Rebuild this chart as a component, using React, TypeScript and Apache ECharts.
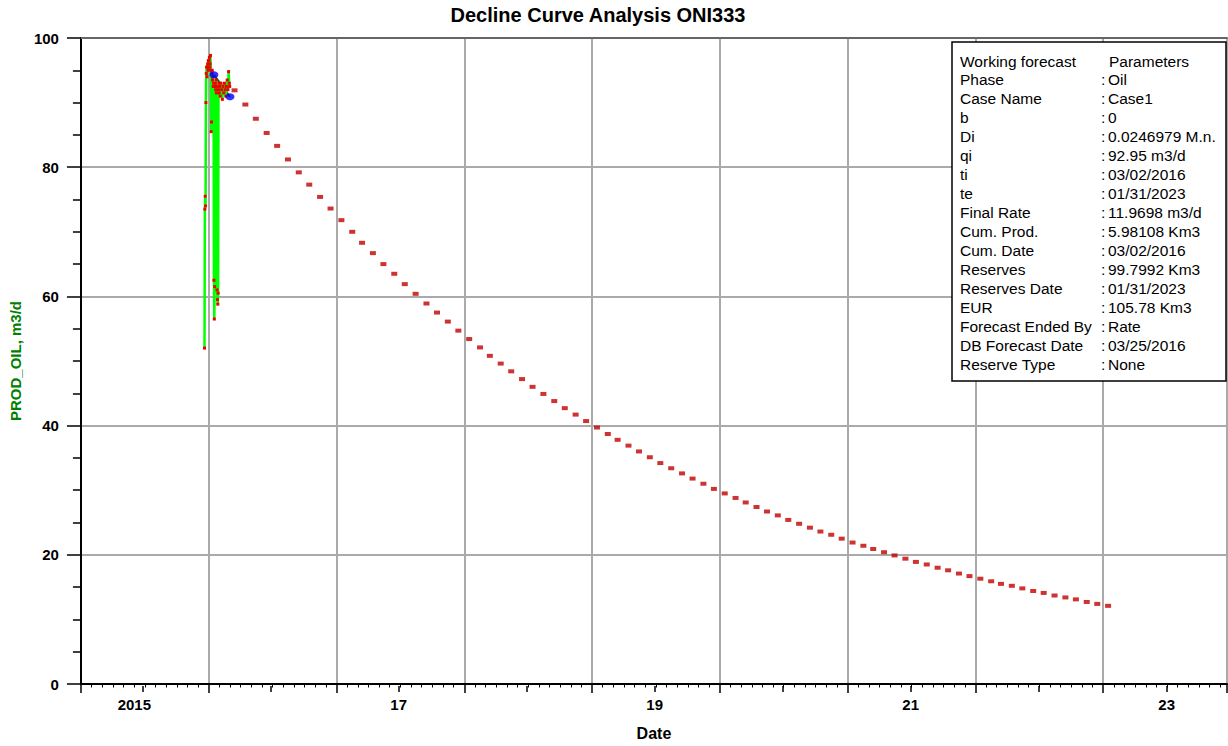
import React, { useEffect, useRef } from 'react';
import * as echarts from 'echarts';

const FONT = '"Liberation Sans", Arial, Helvetica, sans-serif';

// X axis (decimal years)
const xMin = 2015;
const xMax = 2023.96875;
const yearLabelYears = [2015, 2017, 2019, 2021, 2023];
const yearLabelTexts = ['2015', '17', '19', '21', '23'];
const midYearTicks = [2015.5, 2016.5, 2017.5, 2018.5, 2019.5, 2020.5, 2021.5, 2022.5, 2023.5];
const labelAnchorOffset = 0.5625; // labels right-aligned just past mid-year tick

// Production history (daily), m3/d
const prodDates = [
  '2015-12-20', '2015-12-21', '2015-12-22', '2015-12-23', '2015-12-24', '2015-12-25', '2015-12-26',
  '2015-12-27', '2015-12-28', '2015-12-29', '2015-12-30', '2015-12-31', '2016-01-01', '2016-01-02',
  '2016-01-03', '2016-01-04', '2016-01-05', '2016-01-06', '2016-01-07', '2016-01-08', '2016-01-09',
  '2016-01-10', '2016-01-11', '2016-01-12', '2016-01-13', '2016-01-14', '2016-01-15', '2016-01-16',
  '2016-01-17', '2016-01-18', '2016-01-19', '2016-01-20', '2016-01-21', '2016-01-22', '2016-01-23',
  '2016-01-24', '2016-01-25', '2016-01-26', '2016-01-27', '2016-01-28', '2016-01-29', '2016-01-30',
  '2016-01-31', '2016-02-01', '2016-02-03', '2016-02-05', '2016-02-07', '2016-02-09', '2016-02-11',
  '2016-02-13', '2016-02-15', '2016-02-17', '2016-02-19', '2016-02-21', '2016-02-23', '2016-02-25',
  '2016-02-27', '2016-02-29', '2016-03-01',
];
const prodRates = [
  52, 73.5, 75.5, 74, 90, 94.5, 95.5,
  94, 95.5, 96, 95, 96.5, 95.5, 96.5,
  97, 95.5, 96, 97.3, 95, 85.5, 87,
  94.5, 95, 93.5, 94, 92.5, 93, 62.5,
  56.5, 61.5, 92.5, 93, 92, 93.5, 91.5,
  92.5, 61, 59.5, 58.8, 60.5, 92, 93,
  91.5, 92.5, 91, 93, 92, 90.5, 92.5,
  91.5, 93, 92, 91, 92.5, 93.5, 92,
  94.8, 93, 92.5,
];

// Forecast (monthly, mid-month), m3/d
const forecastStartYear = 2016;
const forecastStartMonth = 3; // March
const forecastRates = [
  91.9, 89.7, 87.5, 85.3, 83.3, 81.2, 79.2, 77.3, 75.4, 73.6,
  71.8, 70.0, 68.3, 66.7, 65.0, 63.5, 61.9, 60.4, 58.9, 57.5,
  56.1, 54.7, 53.4, 52.1, 50.8, 49.6, 48.4, 47.2, 46.0, 44.9,
  43.8, 42.7, 41.7, 40.7, 39.7, 38.7, 37.8, 36.9, 36.0, 35.1,
  34.2, 33.4, 32.6, 31.8, 31.0, 30.2, 29.5, 28.8, 28.1, 27.4,
  26.7, 26.1, 25.4, 24.8, 24.2, 23.6, 23.1, 22.5, 21.9, 21.4,
  20.9, 20.4, 19.9, 19.4, 18.9, 18.5, 18.0, 17.6, 17.1, 16.7,
  16.3, 15.9, 15.5, 15.2, 14.8, 14.4, 14.1, 13.7, 13.4, 13.1,
  12.7, 12.4, 12.1,
];

// Forecast anchor points
const anchorDates = ['2016-01-16', '2016-03-02'];
const anchorRates = [94.3, 90.9];

// Parameter box
const paramHeader = ['Working forecast', 'Parameters'];
const paramLabels = [
  'Phase', 'Case Name', 'b', 'Di', 'qi', 'ti', 'te', 'Final Rate', 'Cum. Prod.', 'Cum. Date',
  'Reserves', 'Reserves Date', 'EUR', 'Forecast Ended By', 'DB Forecast Date', 'Reserve Type',
];
const paramValues = [
  'Oil', 'Case1', '0', '0.0246979 M.n.', '92.95 m3/d', '03/02/2016', '01/31/2023', '11.9698 m3/d',
  '5.98108 Km3', '03/02/2016', '99.7992 Km3', '01/31/2023', '105.78 Km3', 'Rate', '03/25/2016', 'None',
];

function utcToYear(ms: number): number {
  const d = new Date(ms);
  const y = d.getUTCFullYear();
  const s = Date.UTC(y, 0, 1);
  const e = Date.UTC(y + 1, 0, 1);
  return y + (ms - s) / (e - s);
}
function dateToYear(s: string): number {
  const [y, m, d] = s.split('-').map(Number);
  return utcToYear(Date.UTC(y, m - 1, d));
}
function monthToYear(i: number): number {
  return utcToYear(Date.UTC(forecastStartYear, forecastStartMonth - 1 + i, 15));
}

export default function App() {
  const ref = useRef<HTMLDivElement>(null);
  useEffect(() => {
    if (!ref.current) return;
    const chart = echarts.init(ref.current, undefined, { renderer: 'svg' });

    const prodData = prodDates.map((d, i) => [dateToYear(d), prodRates[i]]);
    const fcData = forecastRates.map((v, i) => [monthToYear(i), v]);
    const anchorData = anchorDates.map((d, i) => [dateToYear(d), anchorRates[i]]);

    const rowH = 18.95;
    const boxFont = `15.5px ${FONT}`;
    const boxTexts: any[] = [
      { type: 'text', x: 960, y: 61, style: { text: paramHeader[0], fill: '#000', font: boxFont, verticalAlign: 'middle' } },
      { type: 'text', x: 1109, y: 61, style: { text: paramHeader[1], fill: '#000', font: boxFont, verticalAlign: 'middle' } },
    ];
    paramLabels.forEach((l, i) => {
      const y = 61 + rowH * (i + 1);
      boxTexts.push({ type: 'text', x: 960, y, style: { text: l, fill: '#000', font: boxFont, verticalAlign: 'middle' } });
      boxTexts.push({ type: 'text', x: 1101, y, style: { text: ':', fill: '#000', font: boxFont, verticalAlign: 'middle' } });
      boxTexts.push({ type: 'text', x: 1108, y, style: { text: paramValues[i], fill: '#000', font: boxFont, verticalAlign: 'middle' } });
    });

    const grid = { left: 79, right: 1, top: 38, bottom: 60 };

    chart.setOption({
      animation: false,
      backgroundColor: '#fff',
      grid: [grid, { ...grid }],
      xAxis: [
        {
          gridIndex: 0, type: 'value', position: 'bottom', min: xMin, max: xMax, interval: 1,
          axisLine: { show: true, onZero: false, lineStyle: { color: '#000', width: 2 } },
          axisTick: { show: true, length: 9, lineStyle: { color: '#000', width: 1.5 } },
          minorTick: { show: true, splitNumber: 12, length: 3.5, lineStyle: { color: '#000', width: 1 } },
          axisLabel: { show: false },
          splitLine: { show: true, lineStyle: { color: '#aaaaaa', width: 2 } },
          name: 'Date', nameLocation: 'middle', nameGap: 41,
          nameTextStyle: { fontFamily: FONT, fontWeight: 'bold', fontSize: 16, color: '#000' },
        },
        {
          gridIndex: 0, type: 'value', position: 'top', min: xMin, max: xMax, interval: 1,
          axisLine: { show: true, onZero: false, lineStyle: { color: '#666', width: 2 } },
          axisTick: { show: false }, axisLabel: { show: false }, splitLine: { show: false },
        },
        {
          gridIndex: 1, type: 'value', position: 'bottom', min: xMin, max: xMax, interval: 1,
          axisLine: { show: false, onZero: false },
          axisTick: { show: true, customValues: midYearTicks, length: 6, lineStyle: { color: '#000', width: 1.5 } },
          axisLabel: {
            show: true, customValues: yearLabelYears.map((y) => y + labelAnchorOffset), margin: 11,
            align: 'right',
            fontFamily: FONT, fontWeight: 'bold', fontSize: 15, color: '#000',
            formatter: (v: number) => {
              const idx = yearLabelYears.indexOf(Math.round(v - labelAnchorOffset));
              return idx >= 0 ? yearLabelTexts[idx] : '';
            },
          },
          splitLine: { show: false },
        },
      ],
      yAxis: [
        {
          gridIndex: 0, type: 'value', min: 0, max: 100, interval: 20,
          axisLine: { show: true, lineStyle: { color: '#000', width: 2 } },
          axisTick: { show: true, length: 14, lineStyle: { color: '#000', width: 1.5 } },
          minorTick: { show: true, splitNumber: 4, length: 8, lineStyle: { color: '#000', width: 1.5 } },
          axisLabel: { margin: 22, fontFamily: FONT, fontWeight: 'bold', fontSize: 15, color: '#000' },
          splitLine: { show: true, lineStyle: { color: '#aaaaaa', width: 2 } },
          name: 'PROD_OIL, m3/d', nameLocation: 'middle', nameGap: 55,
          nameTextStyle: { fontFamily: FONT, fontWeight: 'bold', fontSize: 15, color: '#008000' },
        },
        { gridIndex: 1, type: 'value', min: 0, max: 100, show: false },
      ],
      series: [
        {
          type: 'line', xAxisIndex: 0, yAxisIndex: 0, data: anchorData,
          showSymbol: false, lineStyle: { color: '#006400', width: 2 }, z: 2,
        },
        {
          type: 'line', xAxisIndex: 0, yAxisIndex: 0, data: prodData,
          symbol: 'rect', symbolSize: 3, showSymbol: true,
          itemStyle: { color: '#ee0000' },
          lineStyle: { color: '#00ff00', width: 2.5 }, z: 3,
        },
        {
          type: 'scatter', xAxisIndex: 0, yAxisIndex: 0, data: fcData,
          symbol: 'rect', symbolSize: [6, 4], itemStyle: { color: '#c00000' }, z: 4,
        },
        {
          type: 'scatter', xAxisIndex: 0, yAxisIndex: 0, data: anchorData,
          symbol: 'circle', symbolSize: [9, 7], itemStyle: { color: '#0000ff' }, z: 5,
        },
      ],
      graphic: [
        {
          type: 'text', x: 598, y: 15, z: 100,
          style: { text: 'Decline Curve Analysis ONI333', fill: '#000', font: `bold 20px ${FONT}`, align: 'center', verticalAlign: 'middle' },
        },
        {
          type: 'group', z: 100,
          children: [
            { type: 'rect', z: 100, shape: { x: 952, y: 42, width: 274, height: 339 }, style: { fill: '#fff', stroke: '#000', lineWidth: 1.5 } },
            ...boxTexts.map((t) => ({ ...t, z: 101 })),
          ],
        },
      ],
    });
    return () => chart.dispose();
  }, []);
  return <div ref={ref} style={{ position: 'absolute', left: 0, top: 0, width: 1228, height: 746 }} />;
}
